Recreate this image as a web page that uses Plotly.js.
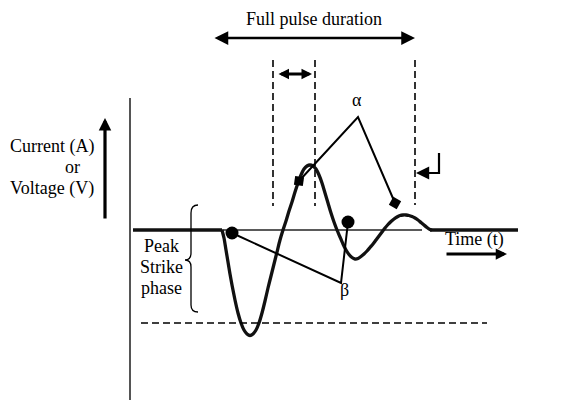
<!DOCTYPE html>
<html>
<head>
<meta charset="utf-8">
<script src="https://cdn.plot.ly/plotly-3.0.1.min.js"></script>
<style>html,body{margin:0;padding:0;background:#fff;}#chart{width:574px;height:400px;}</style>
</head>
<body>
<div id="chart"></div>
<script>
// Waveform samples (time in px-space, value in px-space, y grows downward)
const waveT = [222,224,226,228,230,232,235,238,241,244,247,250,253,256,259,262,265,268,271,274,277,280,283,286,289,292,295,298,301,304,307,310,313,316,319,322,325,328,331,334,337,340,343,346,349,352,355,358,361,364,367,370,373,376,379,382,385,388,391,394,397,400,403,406,409,412,415,418,421,424,427,430,432];
const waveV = [230,238,250,262,274,285,300,313,323,330,334,335.5,334,330,323,313,301,288,276,264,252,240,230,221,211,202,192,183,175,169,166,165,166,169,175,183,193,203,213,222,230,237,244,250,254.5,257.5,259,258.5,256.5,254,251,247.5,244,240,236,232,228,224.5,221.5,219,217,215.5,215,215,215.5,216.5,218,220,222.5,225,227.5,229.5,230];

const baseLevel = 230;
const baseLeftT = [133, 222];
const baseMidT = [222, 422];
const baseRightT = [430, 518];

// alpha markers (squares) and beta markers (circles)
const alphaPtsT = [299, 395];
const alphaPtsV = [181, 203];
const alphaVertex = [358, 117];
const betaPtsT = [232, 348];
const betaPtsV = [233, 222];
const betaVertex = [341, 283];

const FAMILY = 'Liberation Serif';

const traces = [
  {x: baseMidT, y: [baseLevel, baseLevel], mode: 'lines', line: {color: '#5a5a5a', width: 2}},
  {x: baseLeftT, y: [baseLevel, baseLevel], mode: 'lines', line: {color: '#111', width: 3.5}},
  {x: baseRightT, y: [baseLevel, baseLevel], mode: 'lines', line: {color: '#111', width: 3.5}},
  {x: waveT, y: waveV, mode: 'lines', line: {color: '#111', width: 3.3, shape: 'spline', smoothing: 0.6}},
  {x: [alphaPtsT[0], alphaVertex[0], alphaPtsT[1]], y: [alphaPtsV[0], alphaVertex[1], alphaPtsV[1]], mode: 'lines', line: {color: '#000', width: 2}},
  {x: [betaPtsT[0], betaVertex[0], betaPtsT[1]], y: [betaPtsV[0], betaVertex[1], betaPtsV[1]], mode: 'lines', line: {color: '#000', width: 2}},
  {x: alphaPtsT, y: alphaPtsV, mode: 'markers', marker: {symbol: 'square', size: 9, color: '#000', angle: [8, 30]}},
  {x: betaPtsT, y: betaPtsV, mode: 'markers', marker: {symbol: 'circle', size: 13, color: '#000'}}
];

function dline(x0, y0, x1, y1) {
  return {type: 'line', xref: 'x', yref: 'y', x0: x0, y0: y0, x1: x1, y1: y1, line: {color: '#000', width: 1.6, dash: '7px,4px'}};
}
const shapes = [
  {type: 'line', xref: 'x', yref: 'y', x0: 130, y0: 98, x1: 130, y1: 400, line: {color: '#555', width: 2}},
  dline(273, 60, 273, 206),
  dline(315, 60, 315, 206),
  dline(415, 60, 415, 205),
  dline(141, 323, 487, 323),
  {type: 'path', xref: 'x', yref: 'y', path: 'M 198,205 Q 191,205 191,213 L 191,253 Q 191,260 185,260 Q 191,260 191,267 L 191,305 Q 191,312 198,312', line: {color: '#000', width: 1.3}},
  {type: 'line', xref: 'x', yref: 'y', x0: 439, y0: 153, x1: 439, y1: 174, line: {color: '#000', width: 2.2}}
];

function arrow(xh, yh, xt, yt, w, s, side) {
  return {x: xh, y: yh, ax: xt, ay: yt, xref: 'x', yref: 'y', axref: 'x', ayref: 'y', text: '', showarrow: true,
    arrowhead: 2, startarrowhead: 2, arrowsize: s, startarrowsize: s, arrowwidth: w, arrowcolor: '#000',
    arrowside: side || 'end', standoff: 0, startstandoff: 0};
}
function label(txt, x, y) {
  return {x: x, y: y, xref: 'x', yref: 'y', text: txt, showarrow: false, font: {family: FAMILY, size: 18, color: '#000'}, xanchor: 'center', yanchor: 'middle'};
}

const annotations = [
  arrow(415, 38, 213, 38, 2.5, 1.1, 'end+start'),
  arrow(312, 74, 277, 74, 3, 0.7, 'end+start'),
  arrow(105, 118, 105, 220, 3.2, 0.78),
  arrow(507, 254, 445, 254, 3, 0.75),
  arrow(416, 173, 440, 173, 2.2, 1.2),
  label('Full pulse duration', 314, 19),
  label('Current (A)', 52, 146),
  label('or', 72, 167),
  label('Voltage (V)', 52, 188),
  label('Peak', 161, 246),
  label('Strike', 161, 267),
  label('phase', 161, 288),
  label('α', 357, 100),
  label('β', 344, 290),
  label('Time (t)', 474, 239)
];

const layout = {
  width: 574, height: 400,
  margin: {l: 0, r: 0, t: 0, b: 0},
  paper_bgcolor: '#fff', plot_bgcolor: '#fff',
  showlegend: false,
  font: {family: FAMILY},
  xaxis: {range: [0, 574], visible: false, fixedrange: true},
  yaxis: {range: [400, 0], visible: false, fixedrange: true},
  shapes: shapes,
  annotations: annotations
};

Plotly.newPlot('chart', traces, layout, {staticPlot: true, displayModeBar: false});
</script>
</body>
</html>
